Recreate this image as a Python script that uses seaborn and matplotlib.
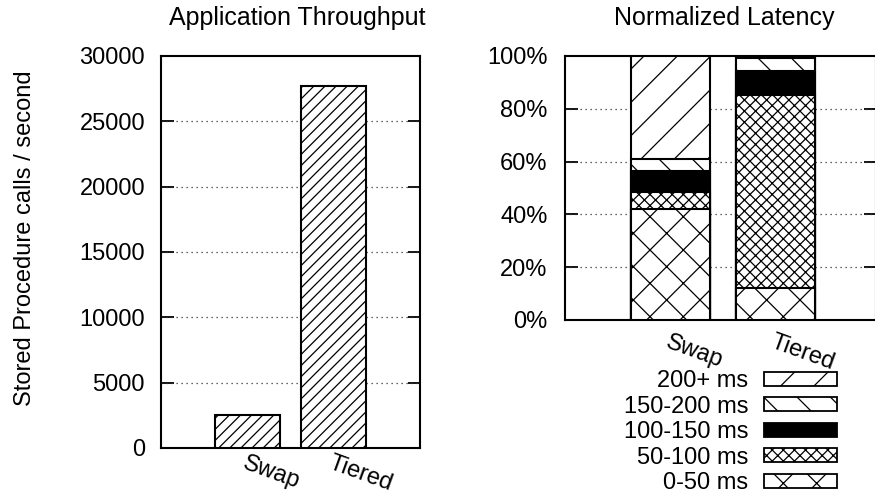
import matplotlib
matplotlib.use("Agg")
import matplotlib.pyplot as plt
import seaborn as sns
import numpy as np
import pandas as pd
from matplotlib.patches import Patch

# ---- data ----
systems = ["Swap", "Tiered"]
throughput = [2540, 27700]
latency_bins = ["0-50 ms", "50-100 ms", "100-150 ms", "150-200 ms", "200+ ms"]
lat_swap = [41.9, 6.7, 8.0, 4.4, 39.0]
lat_tiered = [12.0, 73.2, 9.2, 4.7, 0.9]
thr_ticks = [0, 5000, 10000, 15000, 20000, 25000, 30000]
pct_ticks = [0, 20, 40, 60, 80, 100]
pct_labels = ["0%", "20%", "40%", "60%", "80%", "100%"]

sns.set_theme(style="white")
plt.rcParams["font.family"] = ["Liberation Sans", "DejaVu Sans"]
plt.rcParams["hatch.linewidth"] = 0.9
plt.rcParams["hatch.color"] = "black"
plt.rcParams["text.color"] = "black"
plt.rcParams["axes.labelcolor"] = "black"
plt.rcParams["xtick.color"] = "black"
plt.rcParams["ytick.color"] = "black"

FS = 17
W, H = 875, 497
fig = plt.figure(figsize=(W / 100, H / 100), dpi=100)

def fx(px):
    return px / W

def fy(py):
    return 1 - py / H

ax1 = fig.add_axes([fx(161), fy(448), fx(420) - fx(161), fy(56) - fy(448)])
ax2 = fig.add_axes([fx(565), fy(320), fx(876) - fx(565), fy(56) - fy(320)])

# ---- left panel: throughput ----
df1 = pd.DataFrame({"system": systems, "thr": throughput})
sns.barplot(data=df1, x="system", y="thr", order=systems, ax=ax1, color="white",
            edgecolor="black", linewidth=1.5, hatch="///", width=0.76,
            saturation=1, errorbar=None, zorder=3)
ax1.set_xlim(-1.01, 2.01)
ax1.set_ylim(0, 30000)
ax1.set_yticks(thr_ticks)
ax1.set_yticklabels([str(t) for t in thr_ticks])
ax1.set_xlabel("")
ax1.set_ylabel("")
for t in thr_ticks[1:-1]:
    ax1.axhline(t, color="#333333", lw=0.9, ls=(0, (1, 3)), zorder=1)

# ---- right panel: stacked latency (cumulative, drawn tallest first) ----
styles = {
    "0-50 ms": ("white", "x"),
    "50-100 ms": ("white", "xxx"),
    "100-150 ms": ("black", ""),
    "150-200 ms": ("white", "\\"),
    "200+ ms": ("white", "/"),
}
cum_swap = np.cumsum(lat_swap)
cum_tiered = np.cumsum(lat_tiered)
for i in range(len(latency_bins) - 1, -1, -1):
    lab = latency_bins[i]
    fc, hatch = styles[lab]
    dfi = pd.DataFrame({"system": systems, "v": [cum_swap[i], cum_tiered[i]]})
    sns.barplot(data=dfi, x="system", y="v", order=systems, ax=ax2, color=fc,
                edgecolor="black", linewidth=1.5, hatch=hatch, width=0.75,
                saturation=1, errorbar=None, zorder=3 + (5 - i))
ax2.set_xlim(-1.005, 1.955)
ax2.set_ylim(0, 100)
ax2.set_yticks(pct_ticks)
ax2.set_yticklabels(pct_labels)
ax2.set_xlabel("")
ax2.set_ylabel("")
for t in pct_ticks[1:-1]:
    ax2.axhline(t, color="#333333", lw=0.9, ls=(0, (1, 3)), zorder=1)

for ax, ypad, xpad in [(ax1, 11.5, 3), (ax2, 12.5, 8)]:
    for s in ax.spines.values():
        s.set_visible(True)
        s.set_color("black")
        s.set_linewidth(1.5)
    ax.tick_params(axis="y", direction="in", length=9, width=1.3, left=True,
                   right=True, labelsize=FS, pad=ypad, colors="black")
    ax.tick_params(axis="x", length=0, labelsize=FS, pad=xpad, colors="black")
    for lbl in ax.get_xticklabels():
        lbl.set_rotation(-20)
        lbl.set_ha("left")
        lbl.set_va("top")
        lbl.set_rotation_mode("anchor")
    ax.set_facecolor("white")

# ---- titles and y label ----
fig.text(fx(297), fy(25), "Application Throughput", ha="center", va="baseline",
         fontsize=18)
fig.text(fx(724), fy(25), "Normalized Latency", ha="center", va="baseline",
         fontsize=18)
fig.text(fx(25), fy(238), "Stored Procedure calls / second", rotation=90,
         ha="center", va="center", fontsize=FS)

# ---- legend ----
handles = []
for lab in latency_bins[::-1]:
    fc, hatch = styles[lab]
    handles.append(Patch(facecolor=fc, edgecolor="black", hatch=hatch,
                         linewidth=1.3, label=lab))
leg = fig.legend(handles=handles, loc="upper right",
                 bbox_to_anchor=(fx(837), fy(370)), frameon=False,
                 markerfirst=False, fontsize=FS, handlelength=3.1,
                 handleheight=0.55, handletextpad=0.65, labelspacing=0.15,
                 borderpad=0, borderaxespad=0)
for t in leg.get_texts():
    t.set_ha("right")

fig.savefig("out.png", dpi=100, facecolor="white")
